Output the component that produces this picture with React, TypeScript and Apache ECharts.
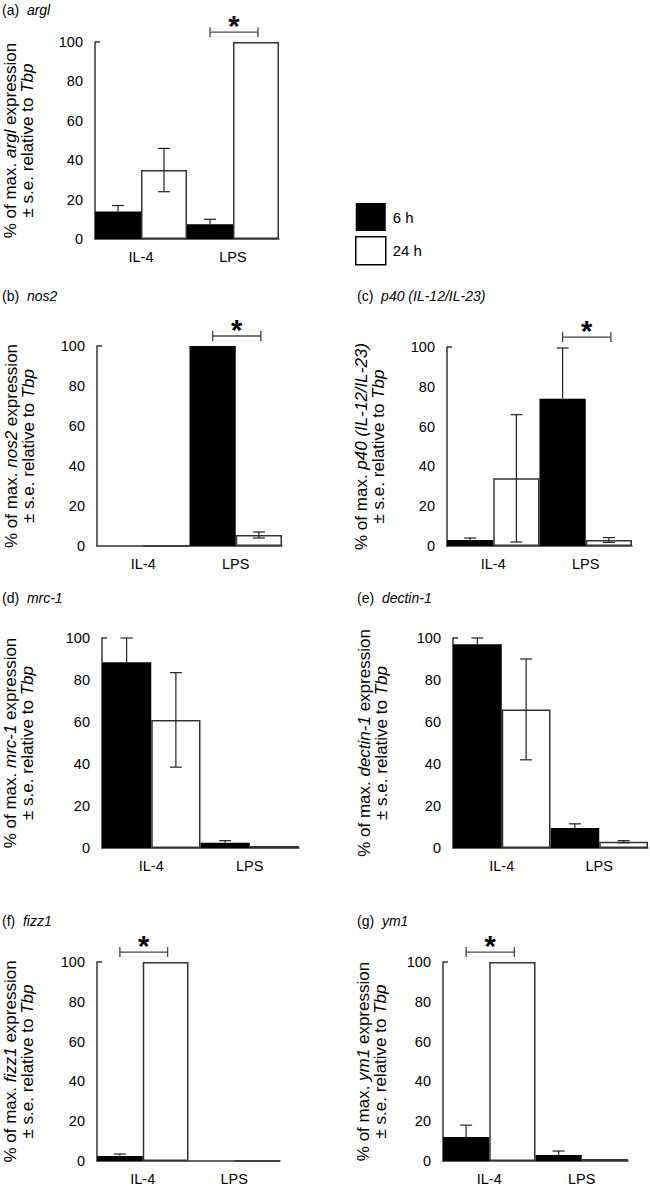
import React, { useEffect, useRef } from 'react';
import * as echarts from 'echarts';

// ---- data ----
const categories = ['IL-4', 'LPS'];
const seriesNames = ['6 h', '24 h'];
const panelLetters = ['(a)', '(b)', '(c)', '(d)', '(e)', '(f)', '(g)'];
const genes = ['argl', 'nos2', 'p40 (IL-12/IL-23)', 'mrc-1', 'dectin-1', 'fizz1', 'ym1'];
const nameHasExpression = [true, true, false, true, true, true, true];

const argl6h = [14, 7.5];
const argl6hErr = [3, 2.5];
const argl24h = [35, 100];
const argl24hErr = [11, 0];

const nos26h = [0, 100];
const nos26hErr = [0, 0];
const nos224h = [0, 5.5];
const nos224hErr = [0, 1.5];

const p406h = [3, 74];
const p406hErr = [1, 25.5];
const p4024h = [34, 3];
const p4024hErr = [32, 1.2];

const mrc16h = [88.5, 2.5];
const mrc16hErr = [11.5, 1];
const mrc124h = [61, 1];
const mrc124hErr = [22.5, 0];

const dectin16h = [97, 9.5];
const dectin16hErr = [3, 2];
const dectin124h = [66, 3];
const dectin124hErr = [24, 0.5];

const fizz16h = [2.5, 0];
const fizz16hErr = [1, 0];
const fizz124h = [100, 0];
const fizz124hErr = [0, 0];

const ym16h = [12, 3];
const ym16hErr = [6, 2];
const ym124h = [100, 1];
const ym124hErr = [0, 0];

// index of the category with a significant 6 h vs 24 h difference (-1: none)
const significantCategory = [1, 1, 1, -1, -1, 0, 0];
const bracketLevel = 105;

const values6h = [argl6h, nos26h, p406h, mrc16h, dectin16h, fizz16h, ym16h];
const errors6h = [argl6hErr, nos26hErr, p406hErr, mrc16hErr, dectin16hErr, fizz16hErr, ym16hErr];
const values24h = [argl24h, nos224h, p4024h, mrc124h, dectin124h, fizz124h, ym124h];
const errors24h = [argl24hErr, nos224hErr, p4024hErr, mrc124hErr, dectin124hErr, fizz124hErr, ym124hErr];

// ---- layout ----
const grids = [
  { left: 95, top: 42, width: 184, height: 197 },
  { left: 97, top: 346, width: 185, height: 200 },
  { left: 447, top: 347, width: 185, height: 199 },
  { left: 102, top: 638, width: 197, height: 210 },
  { left: 453, top: 638, width: 195, height: 210 },
  { left: 97, top: 962, width: 183, height: 199 },
  { left: 443, top: 962, width: 185, height: 199 },
];
const titlePos = [
  { left: 2, top: 3 },
  { left: 2, top: 289 },
  { left: 357, top: 289 },
  { left: 2, top: 591 },
  { left: 357, top: 591 },
  { left: 2, top: 914 },
  { left: 357, top: 914 },
];
const nameGaps = [59, 60, 60, 66, 63, 61, 54];

const FONT = 'Liberation Sans, Arial, Helvetica, sans-serif';
const AXIS_COLOR = '#333';
const ERR_COLOR = '#222';

// sign: -1 -> 6 h (black bar, only the part above the bar shows), +1 -> 24 h
function errorRenderer(sign: number) {
  return (params: any, api: any) => {
    const idx = api.value(0);
    const low = api.value(1);
    const high = api.value(2);
    const mid = api.value(3);
    const band = api.size([1, 0])[0];
    const pTop = api.coord([idx, high]);
    const pBottom = api.coord([idx, sign < 0 ? mid : low]);
    const x = pTop[0] + (sign * band) / 4;
    const cap = 6;
    const style = { stroke: ERR_COLOR, lineWidth: 1.2 };
    const children: any[] = [
      { type: 'line', shape: { x1: x, y1: pBottom[1], x2: x, y2: pTop[1] }, style },
      { type: 'line', shape: { x1: x - cap, y1: pTop[1], x2: x + cap, y2: pTop[1] }, style },
    ];
    if (sign > 0) {
      children.push({ type: 'line', shape: { x1: x - cap, y1: pBottom[1], x2: x + cap, y2: pBottom[1] }, style });
    }
    return { type: 'group', children };
  };
}

function bracketRenderer(params: any, api: any) {
  const idx = api.value(0);
  const level = api.value(1);
  const band = api.size([1, 0])[0];
  const c = api.coord([idx, level]);
  const x1 = c[0] - band / 4;
  const x2 = c[0] + band / 4 + 2;
  const y = c[1];
  const style = { stroke: '#444', lineWidth: 1.3 };
  return {
    type: 'group',
    children: [
      { type: 'line', shape: { x1, y1: y, x2, y2: y }, style },
      { type: 'line', shape: { x1, y1: y - 5, x2: x1, y2: y + 5 }, style },
      { type: 'line', shape: { x1: x2, y1: y - 5, x2, y2: y + 5 }, style },
      {
        type: 'text',
        x: (x1 + x2) / 2,
        y: y - 6,
        style: {
          text: '*',
          fill: '#000',
          font: `bold 29px ${FONT}`,
          align: 'center',
          verticalAlign: 'middle',
        },
      },
    ],
  };
}

function buildOption() {
  const title: any[] = [];
  const grid: any[] = [];
  const xAxis: any[] = [];
  const yAxis: any[] = [];
  const series: any[] = [];

  genes.forEach((gene, i) => {
    title.push({
      text: `${panelLetters[i]}  {i|${gene}}`,
      left: titlePos[i].left,
      top: titlePos[i].top,
      padding: 0,
      textStyle: {
        fontFamily: FONT,
        fontSize: 14,
        fontWeight: 'normal',
        color: '#000',
        rich: { i: { fontFamily: FONT, fontSize: 14, fontStyle: 'italic', color: '#000' } },
      },
    });
    grid.push({ ...grids[i], containLabel: false, outerBoundsMode: 'none' });
    xAxis.push({
      type: 'category',
      gridIndex: i,
      data: categories,
      axisLine: { show: true, lineStyle: { color: AXIS_COLOR, width: 1.5 } },
      axisTick: { show: false },
      axisLabel: { fontFamily: FONT, fontSize: 14.5, color: '#000', margin: 10 },
      splitLine: { show: false },
    });
    const line1 = nameHasExpression[i]
      ? `% of max. {i|${gene}} expression`
      : `% of max. {i|${gene}}`;
    yAxis.push({
      type: 'value',
      gridIndex: i,
      min: 0,
      max: 100,
      interval: 20,
      axisLine: { show: true, lineStyle: { color: AXIS_COLOR, width: 1.5 } },
      axisTick: {
        show: true,
        inside: true,
        length: 5,
        customValues: [100],
        lineStyle: { color: AXIS_COLOR, width: 1.5 },
      },
      splitLine: { show: false },
      axisLabel: { fontFamily: FONT, fontSize: 14.5, color: '#000', margin: 12 },
      name: `${line1}\n± s.e. relative to {i|Tbp}`,
      nameLocation: 'middle',
      nameRotate: 90,
      nameGap: nameGaps[i],
      nameTextStyle: {
        fontFamily: FONT,
        fontSize: 17,
        color: '#000',
        lineHeight: 17,
        rich: { i: { fontFamily: FONT, fontSize: 17, fontStyle: 'italic', color: '#000', lineHeight: 17 } },
      },
    });
    series.push({
      name: seriesNames[0],
      type: 'bar',
      xAxisIndex: i,
      yAxisIndex: i,
      data: values6h[i],
      barGap: '0%',
      barCategoryGap: '0%',
      itemStyle: { color: '#000' },
    });
    series.push({
      name: seriesNames[1],
      type: 'bar',
      xAxisIndex: i,
      yAxisIndex: i,
      data: values24h[i],
      barGap: '0%',
      barCategoryGap: '0%',
      itemStyle: { color: '#fff', borderColor: '#333', borderWidth: 1.5 },
    });
    const errData = (vals: number[], errs: number[]) =>
      vals
        .map((v, k) => [k, Math.max(0, v - errs[k]), v + errs[k], v, errs[k]])
        .filter((d) => d[4] > 0)
        .map((d) => [d[0], d[1], d[2], d[3]]);
    series.push({
      name: `err-6h-${i}`,
      type: 'custom',
      xAxisIndex: i,
      yAxisIndex: i,
      renderItem: errorRenderer(-1),
      data: errData(values6h[i], errors6h[i]),
      encode: { x: 0, y: [1, 2] },
      z: 5,
      clip: false,
    });
    series.push({
      name: `err-24h-${i}`,
      type: 'custom',
      xAxisIndex: i,
      yAxisIndex: i,
      renderItem: errorRenderer(1),
      data: errData(values24h[i], errors24h[i]),
      encode: { x: 0, y: [1, 2] },
      z: 5,
      clip: false,
    });
    if (significantCategory[i] >= 0) {
      series.push({
        name: `sig-${i}`,
        type: 'custom',
        xAxisIndex: i,
        yAxisIndex: i,
        renderItem: bracketRenderer,
        data: [[significantCategory[i], bracketLevel]],
        encode: { x: 0, y: 1 },
        z: 5,
        clip: false,
      });
    }
  });

  return {
    animation: false,
    backgroundColor: '#fff',
    title,
    legend: {
      orient: 'vertical',
      left: 355,
      top: 203,
      padding: 0,
      itemWidth: 30,
      itemHeight: 28,
      itemGap: 5,
      selectedMode: false,
      textStyle: { fontFamily: FONT, fontSize: 15, color: '#000', padding: [0, 0, 0, 2] },
      data: [
        { name: seriesNames[0], icon: 'rect', itemStyle: { color: '#000', borderWidth: 0 } },
        { name: seriesNames[1], icon: 'rect', itemStyle: { color: '#fff', borderColor: '#000', borderWidth: 1.5 } },
      ],
    },
    grid,
    xAxis,
    yAxis,
    series,
  };
}

export default function App() {
  const ref = useRef<HTMLDivElement>(null);
  useEffect(() => {
    if (!ref.current) return;
    const chart = echarts.init(ref.current, undefined, { renderer: 'svg' });
    chart.setOption(buildOption() as any);
    return () => chart.dispose();
  }, []);
  return (
    <div
      ref={ref}
      style={{ position: 'absolute', left: 0, top: 0, width: 650, height: 1187, background: '#fff' }}
    />
  );
}
